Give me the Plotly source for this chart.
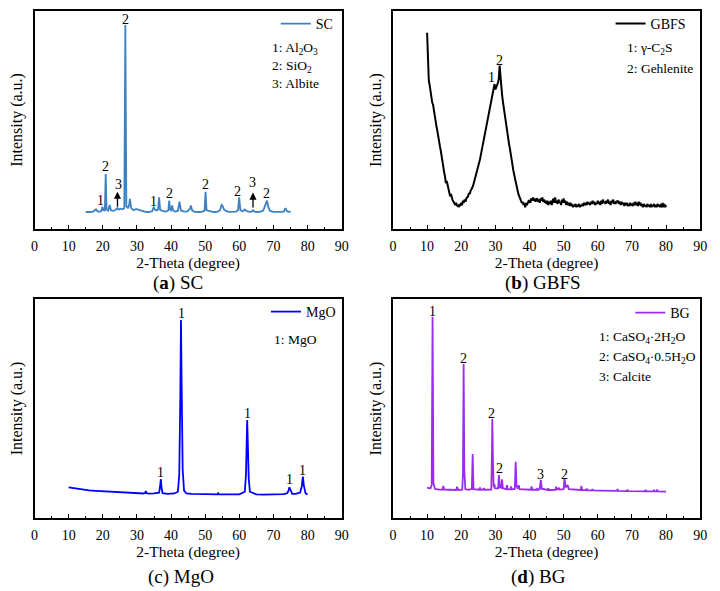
import numpy as np
import plotly.graph_objects as go

# ---------------- data ----------------
sc_theta = [15, 16, 17, 17.6, 18.0, 18.4, 19, 19.6, 19.9, 20.2, 20.6, 20.85, 21.1, 21.6, 22.0, 22.4, 23, 23.6,
            24.0, 24.3, 24.6, 25.2, 25.8, 26.3, 26.6, 26.9, 27.4, 27.7, 27.95, 28.3, 29, 29.8, 30.5, 31.5, 32.5,
            33.5, 34.5, 34.9, 35.3, 35.8, 36.2, 36.5, 36.8, 37.5, 38.5, 39.2, 39.45, 39.7, 40.0, 40.3, 40.6, 41.2,
            42.0, 42.45, 42.9, 43.8, 44.8, 45.5, 45.8, 46.2, 47, 48, 49, 49.8, 50.1, 50.4, 51.5, 52.5, 53.5, 54.3,
            54.8, 55.1, 55.5, 56.2, 57, 58, 59, 59.6, 59.95, 60.3, 61, 61.6, 62.2, 63, 63.6, 64.0, 64.4, 65, 66,
            67.0, 67.5, 67.75, 68.1, 68.5, 69, 70, 71, 72, 73, 73.5, 74, 75]
sc_int = [7.8, 7.7, 7.9, 8.5, 9.0, 8.2, 7.9, 8.3, 10.2, 8.6, 8.5, 25.2, 9.0, 8.4, 11.0, 8.6, 8.3, 8.6,
          9.2, 9.6, 8.9, 9.3, 9.0, 9.5, 93.6, 10.5, 9.5, 11.0, 13.8, 9.6, 8.6, 9.2, 8.8, 8.2, 7.9,
          7.8, 8.2, 10.2, 8.8, 8.5, 9.0, 14.5, 8.8, 8.3, 8.0, 8.5, 13.0, 9.0, 8.6, 10.8, 8.5, 8.0,
          8.3, 12.5, 8.5, 8.0, 8.1, 9.2, 10.8, 8.4, 7.9, 7.8, 7.9, 8.4, 17.1, 8.6, 8.0, 7.8, 7.9, 8.5,
          11.0, 10.5, 9.0, 8.2, 7.9, 7.8, 8.0, 8.6, 14.5, 8.7, 8.1, 9.0, 8.2, 7.9, 8.0, 8.6, 8.0, 7.8, 7.9,
          8.5, 10.5, 12.0, 13.0, 10.0, 8.3, 7.9, 7.8, 7.9, 8.0, 9.6, 8.1, 7.8]

gbfs_theta = np.round(np.arange(10.0, 80.001, 0.25), 2)
gbfs_int = [
    90, 72, 68, 66, 63, 61, 58, 57, 54, 52, 50, 47, 45, 42, 40, 38, 36, 33, 30, 28,
    26, 24, 21, 22, 20, 19, 17, 15, 16, 14, 13, 12.5, 12, 11, 12, 10.5, 11, 10, 11.5, 10.5,
    12, 11, 13, 12, 13.5, 12.5, 14, 14.5, 15, 16.5, 16, 17.5, 18, 19, 20, 21.5, 22, 24, 25, 27,
    28, 30, 32, 34, 36, 38.5, 40, 43, 45, 47, 49.5, 51, 53, 55, 57.5, 59, 61, 63, 65, 66.5,
    64, 65, 66, 67, 69, 75, 70, 64, 61, 58, 55, 52.5, 50, 47, 44, 42, 39, 37, 34, 32,
    30, 27, 25, 23, 21, 19, 17.5, 16, 15, 13.5, 13, 12, 12.5, 11, 12, 10, 12, 11, 12.5, 13,
    13, 12, 14, 13, 14.5, 13, 14, 12.5, 13.5, 14, 12.5, 13.5, 12, 14, 13, 14.5, 12.5, 13.5, 12, 13,
    11.5, 13, 11, 12.5, 11.5, 13, 11, 12.5, 14, 12, 14.5, 12, 13, 11.5, 13.5, 12, 12.5, 11, 13.5, 12,
    14, 12, 13, 11, 12.5, 11, 12, 10.5, 12, 10.5, 11.5, 10, 11, 10.5, 11.5, 10, 11, 10.5, 11.5, 10,
    11, 10.5, 11.5, 10.5, 12, 11, 12, 11, 12.5, 11.5, 12, 11, 12.5, 11.5, 13, 11.5, 12.5, 11, 12, 11.5,
    13, 11.5, 12.5, 11, 13, 11.5, 13.5, 12, 12.5, 11.5, 13, 12, 13.5, 11.5, 12.5, 11, 13, 12, 13.5, 11.5,
    12.5, 11.5, 13, 12, 13, 11.5, 12.5, 11, 12.5, 11.5, 12, 10.5, 12, 11, 12, 10.5, 11.5, 10.5, 12, 11,
    11.5, 10.5, 12, 11, 12.5, 11, 12, 10.5, 12.5, 11, 12, 10.5, 11.5, 10, 11.5, 10.5, 11, 10, 11.5, 10.5,
    11, 10, 11.5, 10, 11, 10.5, 11.5, 10, 11, 10, 11.5, 10.5, 11, 10, 11.5, 10, 12, 10, 11.5, 10,
    11]

mgo_theta = [10, 12, 14, 16, 18, 20, 22, 24, 26, 28, 30, 32, 32.4, 32.6, 32.8, 33.5, 35, 36.5, 36.8, 37.0,
             37.2, 37.5, 39, 41, 42.0, 42.4, 42.7, 42.9, 43.1, 43.4, 43.8, 44.5, 46, 48, 50, 52, 53.6, 53.8,
             54.0, 56, 58, 60, 61.6, 61.95, 62.15, 62.3, 62.5, 62.75, 63.1, 65, 67, 69, 71, 73, 74.0, 74.4,
             74.65, 75.0, 75.5, 76.5, 77.8, 78.3, 78.6, 78.9, 79.4, 80]
mgo_int = [14, 13.5, 13, 12.6, 12.4, 12.2, 12.0, 11.8, 11.6, 11.4, 11.3, 11.2, 11.5, 12.3, 11.3, 11.1, 11.2,
           11.6, 14.5, 17.8, 14.0, 11.3, 11.0, 11.2, 12.0, 20, 55, 90.4, 60, 22, 12.5, 11.2, 11.0, 10.9,
           10.8, 10.8, 10.8, 11.3, 10.8, 10.8, 10.7, 10.8, 12.0, 20, 35, 44.7, 33, 18, 12.0, 10.8, 10.7,
           10.7, 10.8, 10.9, 11.3, 12.5, 14.0, 12.3, 11.0, 11.0, 11.6, 14.5, 18.9, 14.8, 11.2, 10.8]

bg_theta = [10, 11.0, 11.35, 11.6, 11.85, 12.3, 13.5, 14.5, 14.75, 15.0, 16.5, 18.5, 18.8, 19.1, 20.3, 20.5,
            20.7, 20.9, 21.2, 22.0, 23.1, 23.35, 23.6, 25.3, 25.5, 25.7, 26.4, 26.6, 26.8, 28.8, 29.0, 29.1,
            29.3, 29.5, 29.7, 29.9, 30.8, 31.05, 31.3, 31.7, 31.95, 32.2, 33.2, 33.4, 33.6, 34.4, 34.6, 34.8,
            35.7, 35.95, 36.2, 36.6, 36.85, 37.1, 40.4, 40.6, 40.8, 42.1, 42.3, 42.5, 43.0, 43.3, 43.6, 45.3,
            45.5, 45.7, 47.6, 47.8, 48.0, 48.4, 48.6, 48.8, 50.0, 50.25, 50.6, 51.2, 51.5, 55.0, 55.2, 55.4,
            56.6, 56.75, 56.9, 58.3, 58.45, 58.6, 60.5, 65.6, 65.8, 66.0, 68.5, 68.7, 68.9, 71, 73.8, 74.0,
            74.2, 76.3, 76.5, 76.7, 77.2, 77.4, 77.6, 80]
bg_int = [13.9, 13.5, 15, 91.9, 16, 13.3, 13.0, 13.0, 14.6, 13.0, 12.9, 12.8, 14.3, 12.8, 12.9, 20,
          70.3, 22, 13.2, 12.9, 13.2, 29.2, 13.2, 12.9, 13.9, 12.9, 13.0, 13.6, 12.9, 13.0, 30, 45.2,
          25, 14.0, 15.5, 13.5, 13.5, 19.6, 14.0, 13.8, 17.7, 13.6, 13.2, 15.0, 13.2, 13.1, 14.4, 13.1,
          13.3, 25.7, 14.5, 13.5, 15.0, 13.2, 12.9, 14.4, 12.9, 12.9, 13.6, 12.9, 13.2, 17.4, 13.4, 12.8,
          13.6, 12.8, 12.9, 14.3, 13.1, 13.2, 13.8, 13.0, 13.2, 18.1, 14.0, 15.0, 13.2, 12.8, 14.6, 12.8,
          12.7, 13.4, 12.7, 12.6, 13.2, 12.6, 12.5, 12.4, 13.2, 12.4, 12.3, 12.9, 12.3, 12.3, 12.2, 12.8,
          12.2, 12.2, 12.9, 12.2, 12.2, 13.0, 12.2, 12.0]

# peak labels: (theta, height, text)
sc_labels = [(19.4, 13.3, "1"), (20.7, 28.6, "2"), (24.5, 20.2, "3"), (26.6, 95.9, "2"), (34.8, 12.8, "1"),
             (39.4, 16.4, "2"), (50.0, 20.2, "2"), (59.6, 17.4, "2"), (63.8, 21.2, "3"), (68.0, 16.4, "2")]
sc_arrows = [(24.3, 9.5, 17.1), (64.0, 9.2, 16.7)]
gbfs_labels = [(28.8, 69.6, "1"), (31.2, 77.5, "2")]
mgo_labels = [(37.0, 20.7, "1"), (43.0, 93.5, "1"), (62.3, 47.8, "1"), (74.6, 17.7, "1"), (78.6, 21.6, "1")]
bg_labels = [(11.6, 94.5, "1"), (20.7, 72.9, "2"), (29.0, 47.5, "2"), (31.2, 22.7, "2"), (43.3, 20.0, "3"),
             (50.3, 20.0, "2")]

x_ticks = [0, 10, 20, 30, 40, 50, 60, 70, 80, 90]

FONT = "Liberation Serif, Times New Roman, serif"
W, H = 720, 591

def px_x(p):
    return p / W

def px_y(p):
    return 1 - p / H

fig = go.Figure()

panels = [
    dict(name="SC", x=sc_theta, y=sc_int, color="#3C82C3", width=1.8, ax="x", ay="y", leg="legend"),
    dict(name="GBFS", x=gbfs_theta, y=gbfs_int, color="#000000", width=2.0, ax="x2", ay="y2", leg="legend2"),
    dict(name="MgO", x=mgo_theta, y=mgo_int, color="#0000FF", width=1.8, ax="x3", ay="y3", leg="legend3"),
    dict(name="BG", x=bg_theta, y=bg_int, color="#9A2BF0", width=1.8, ax="x4", ay="y4", leg="legend4"),
]
for p in panels:
    fig.add_trace(go.Scatter(x=list(p["x"]), y=p["y"], mode="lines", name=p["name"],
                             line=dict(color=p["color"], width=p["width"]),
                             xaxis=p["ax"], yaxis=p["ay"], legend=p["leg"], showlegend=True))

# domains (pixels)
left_dom = [px_x(31), px_x(343)]
right_dom = [px_x(395), px_x(707)]
top_dom = [px_y(229), px_y(11)]
bot_dom = [px_y(518), px_y(299)]

def xaxis(dom, anchor):
    return dict(domain=dom, anchor=anchor, range=[0, 90], tickmode="array", tickvals=x_ticks,
                ticktext=[str(v) for v in x_ticks], ticks="inside", ticklen=4, tickwidth=1.3,
                tickcolor="black", showline=True, linewidth=1.5, linecolor="black", mirror=True,
                showgrid=False, zeroline=False, ticklabelstandoff=3,
                minor=dict(ticks="inside", tickvals=[5, 15, 25, 35, 45, 55, 65, 75, 85], ticklen=2,
                           tickwidth=1.3, tickcolor="black", showgrid=False),
                tickfont=dict(family=FONT, size=14, color="black"),
                title=dict(text="2-Theta (degree)", font=dict(family=FONT, size=15.5, color="black"), standoff=5))

def yaxis(dom, anchor):
    return dict(domain=dom, anchor=anchor, range=[0, 100], showticklabels=False, ticks="",
                showline=True, linewidth=1.5, linecolor="black", mirror=True, showgrid=False,
                zeroline=False,
                title=dict(text="Intensity (a.u.)", font=dict(family=FONT, size=16, color="black"), standoff=6))

def legend(xpx, ypx):
    return dict(x=px_x(xpx), y=px_y(ypx), xanchor="left", yanchor="middle", bgcolor="rgba(0,0,0,0)",
                borderwidth=0, font=dict(family=FONT, size=14, color="black"), itemwidth=30)

fig.update_layout(
    width=W, height=H, margin=dict(l=0, r=0, t=0, b=0),
    paper_bgcolor="white", plot_bgcolor="white",
    font=dict(family=FONT, color="black"),
    xaxis=xaxis(left_dom, "y"), yaxis=yaxis(top_dom, "x"),
    xaxis2=xaxis(right_dom, "y2"), yaxis2=yaxis(top_dom, "x2"),
    xaxis3=xaxis(left_dom, "y3"), yaxis3=yaxis(bot_dom, "x3"),
    xaxis4=xaxis(right_dom, "y4"), yaxis4=yaxis(bot_dom, "x4"),
    legend=legend(276, 24), legend2=legend(616, 24), legend3=legend(266, 312), legend4=legend(636, 313),
)

ann = []
def peak_labels(labels, xr, yr):
    for t, h, s in labels:
        ann.append(dict(x=t, y=h, xref=xr, yref=yr, text=s, showarrow=False,
                        font=dict(family=FONT, size=14, color="black")))

peak_labels(sc_labels, "x", "y")
peak_labels(gbfs_labels, "x2", "y2")
peak_labels(mgo_labels, "x3", "y3")
peak_labels(bg_labels, "x4", "y4")

for t, y0, y1 in sc_arrows:
    ann.append(dict(x=t, y=y1, ax=t, ay=y0, xref="x", yref="y", axref="x", ayref="y", text="",
                    showarrow=True, arrowhead=2, arrowsize=1.1, arrowwidth=1.3, arrowcolor="black"))

def note(xpx, ypx, text, size=13.5):
    ann.append(dict(x=px_x(xpx), y=px_y(ypx), xref="paper", yref="paper", xanchor="left", yanchor="middle",
                    text=text, showarrow=False, font=dict(family=FONT, size=size, color="black")))

note(270, 48, "1: Al<sub>2</sub>O<sub>3</sub>")
note(270, 66, "2: SiO<sub>2</sub>")
note(270, 84, "3: Albite")
note(631, 48, "1: γ-C<sub>2</sub>S")
note(631, 68, "2: Gehlenite")
note(272, 339, "1: MgO")
note(602, 337, "1: CaSO<sub>4</sub>·2H<sub>2</sub>O")
note(602, 357, "2: CaSO<sub>4</sub>·0.5H<sub>2</sub>O")
note(602, 377, "3: Calcite")

def caption(xc, yc, text):
    ann.append(dict(x=px_x(xc), y=px_y(yc), xref="paper", yref="paper", xanchor="center", yanchor="middle",
                    text=text, showarrow=False, font=dict(family=FONT, size=19, color="black")))

caption(177, 283, "(<b>a</b>) SC")
caption(547, 283, "(<b>b</b>) GBFS")
caption(180, 577, "(c) MgO")
caption(543, 577, "(<b>d</b>) BG")

fig.update_layout(annotations=ann)
fig.write_html("out.html")
